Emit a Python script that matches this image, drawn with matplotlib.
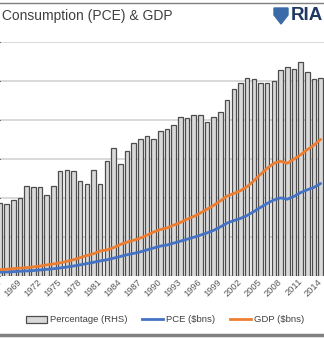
import numpy as np
import matplotlib
matplotlib.use("Agg")
import matplotlib.pyplot as plt
from matplotlib.patches import Patch, Polygon
from matplotlib.lines import Line2D

years = np.arange(1966, 2015)

# PCE as % of GDP (right-hand axis)
pct = [59.7, 59.6, 59.9, 60.0, 60.8, 60.7, 60.7, 60.2, 60.8, 61.7,
       61.8, 61.7, 61.1, 60.9, 61.8, 60.9, 62.4, 63.2, 62.2, 63.0,
       63.5, 63.8, 64.0, 63.8, 64.3, 64.4, 64.7, 65.2, 65.1, 65.3,
       65.3, 64.9, 65.2, 65.5, 66.3, 67.0, 67.4, 67.7, 67.6, 67.4,
       67.4, 67.5, 68.2, 68.4, 68.3, 68.7, 68.1, 67.6, 67.7]

gdp = [815, 862, 943, 1019, 1073, 1165, 1280, 1425, 1545, 1684,
       1873, 2082, 2352, 2627, 2857, 3207, 3344, 3634, 4037, 4339,
       4580, 4855, 5236, 5642, 5963, 6158, 6520, 6859, 7287, 7640,
       8073, 8577, 9063, 9631, 10252, 10582, 10936, 11458, 12214, 13037,
       13815, 14452, 14713, 14449, 14992, 15543, 16197, 16785, 17522]

pce = [491, 514, 558, 606, 647, 701, 770, 852, 933, 1034,
       1151, 1279, 1428, 1593, 1755, 1938, 2074, 2287, 2499, 2723,
       2898, 3092, 3347, 3593, 3836, 3975, 4220, 4459, 4718, 4966,
       5238, 5530, 5863, 6300, 6793, 7101, 7385, 7765, 8260, 8794,
       9304, 9751, 10014, 9847, 10202, 10689, 11051, 11362, 11863]

tick_years = np.arange(1966, 2015, 3)

W, H = 324, 339
fig = plt.figure(figsize=(W / 100, H / 100), dpi=100)
fig.patch.set_facecolor("white")

# plot area: y from 42px (top) to 276px (bottom), full width
ax = fig.add_axes([0, (H - 276) / H, 1, (276 - 42) / H])
ax.set_xlim(1966, 1966 + W / 6.68)
ax.set_ylim(55, 70)
ax.set_yticks(np.linspace(55, 70, 7))
ax.yaxis.grid(True, color="#d9d9d9", lw=1.4)
ax.set_axisbelow(True)
ax.bar(years, pct, width=0.68, bottom=0, color="#d9d9d9",
       edgecolor="#4d4d4d", lw=0.9)
ax.set_ylim(55, 70)
ax.tick_params(axis="y", left=False, labelleft=False)
ax.set_xticks(tick_years)
ax.set_xticklabels([str(y) for y in tick_years], rotation=45, ha="right",
                   va="center", rotation_mode="anchor", fontsize=6.7,
                   color="#595959", family="Liberation Sans")
ax.tick_params(axis="x", length=0, pad=3)
for s in ax.spines.values():
    s.set_visible(False)
ax.set_facecolor("none")

ax2 = ax.twinx()
ax2.set_ylim(0, 30000)
ax2.plot(years, pce, color="#4472c4", lw=2.0, solid_capstyle="round")
ax2.plot(years, gdp, color="#ed7d31", lw=2.0, solid_capstyle="round")
ax2.tick_params(axis="y", right=False, labelright=False)
for s in ax2.spines.values():
    s.set_visible(False)

# header
fig.text(173 / W, 1 - 16 / H, "Personal Consumption (PCE) & GDP", ha="right",
         va="center", fontsize=10, color="#404040", family="Liberation Sans")
shield = Polygon([(274 / W, 1 - 8 / H), (288 / W, 1 - 8 / H),
                  (288 / W, 1 - 15 / H), (281 / W, 1 - 24 / H),
                  (274 / W, 1 - 15 / H)], closed=True,
                 transform=fig.transFigure, color="#3b6aa8")
fig.patches.append(shield)
fig.text(291 / W, 1 - 16 / H, "RIA", ha="left", va="center", fontsize=13.5,
         fontweight="bold", color="#1f3864", family="Liberation Sans")
fig.add_artist(Line2D([0, 1], [1 - 3 / H, 1 - 3 / H], transform=fig.transFigure,
                      color="#7f7f7f", lw=1))
fig.add_artist(Line2D([0, 1], [1 - 335 / H, 1 - 335 / H],
                      transform=fig.transFigure, color="#808080", lw=2.5))

handles = [Patch(facecolor="#d9d9d9", edgecolor="#4d4d4d", lw=0.9),
           Line2D([], [], color="#4472c4", lw=2.0),
           Line2D([], [], color="#ed7d31", lw=2.0)]
fig.legend(handles, ["Percentage (RHS)", "PCE ($bns)", "GDP ($bns)"],
           loc="center", bbox_to_anchor=(165 / W, 1 - 320 / H), ncol=3,
           frameon=False, handlelength=2.2, handletextpad=0.3,
           columnspacing=1.6, prop={"family": "Liberation Sans", "size": 6.8},
           labelcolor="#404040")

fig.savefig("out.png", dpi=100, facecolor="white")
